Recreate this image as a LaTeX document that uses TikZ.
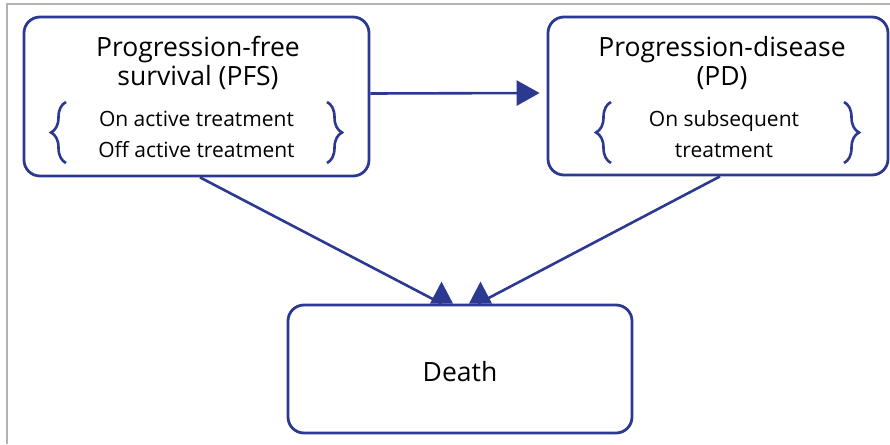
\documentclass[tikz,border=0pt]{standalone}
\usepackage{fontspec}
\setmainfont{Open Sans}
\usetikzlibrary{arrows.meta,decorations.pathreplacing}
\definecolor{stateblue}{HTML}{2B3990}

\begin{document}
\begin{tikzpicture}[x=1pt,y=-1pt]
    \tikzstyle{state}=[draw=stateblue,line width=2.8pt,rounded corners=16pt,inner sep=0]
    \tikzstyle{title}=[anchor=base,align=center,inner sep=0,font=\fontsize{26.5}{29}\selectfont]
    \tikzstyle{item}=[anchor=base,align=center,inner sep=0,font=\fontsize{21}{31}\selectfont]
    \tikzstyle{brc}=[draw=stateblue,line width=2.6pt,decorate,decoration={brace,amplitude=15pt}]
    \tikzstyle{link}=[draw=stateblue,line width=2.6pt]
    \newcommand{\uptip}[1]{
        \fill[stateblue] (#1) ++(-11.5,0) -- ++(23,0) -- ++(-11.5,-22) -- cycle;
    }
    \useasboundingbox (0,0) rectangle (890,444);
    \draw[gray!60,line width=2pt] (7,444) -- (7,4) -- (890,4);
    % the three states
    \path (196.5,96.5) node[state,minimum width=345pt,minimum height=159pt] (pfs) {};
    \path (718,96) node[state,minimum width=340pt,minimum height=158pt] (pd) {};
    \path (460,369) node[state,minimum width=344pt,minimum height=128pt] (death) {};
    % texts
    \path (198,85) node[title] (pfstitle) {Progression-free\\survival (PFS)};
    \path (196.5,157) node[item] (pfsitems) {On active treatment\\Off active treatment};
    \path (722,85) node[title] (pdtitle) {Progression-disease\\(PD)};
    \path (724,157) node[item] (pditems) {On subsequent\\treatment};
    \path (460,381) node[title] (deathtitle) {Death};
    % braces
    \draw[brc] (66,163) -- (66,102);
    \draw[brc] (327,102) -- (327,163);
    \draw[brc] (611,163) -- (611,102);
    \draw[brc] (844,102) -- (844,163);
    % transitions
    \draw[link,-{Triangle[length=23pt,width=25pt]}] ([yshift=3pt]pfs.east) -- ([yshift=3pt,xshift=-7pt]pd.west);
    \draw[link] ([xshift=3.5pt]pfs.south) -- ([xshift=-18.5pt]death.north);
    \draw[link] ([xshift=2pt]pd.south) -- ([xshift=18pt]death.north);
    \uptip{[xshift=-18.5pt]death.north}
    \uptip{[xshift=20.5pt]death.north}
\end{tikzpicture}
\end{document}
